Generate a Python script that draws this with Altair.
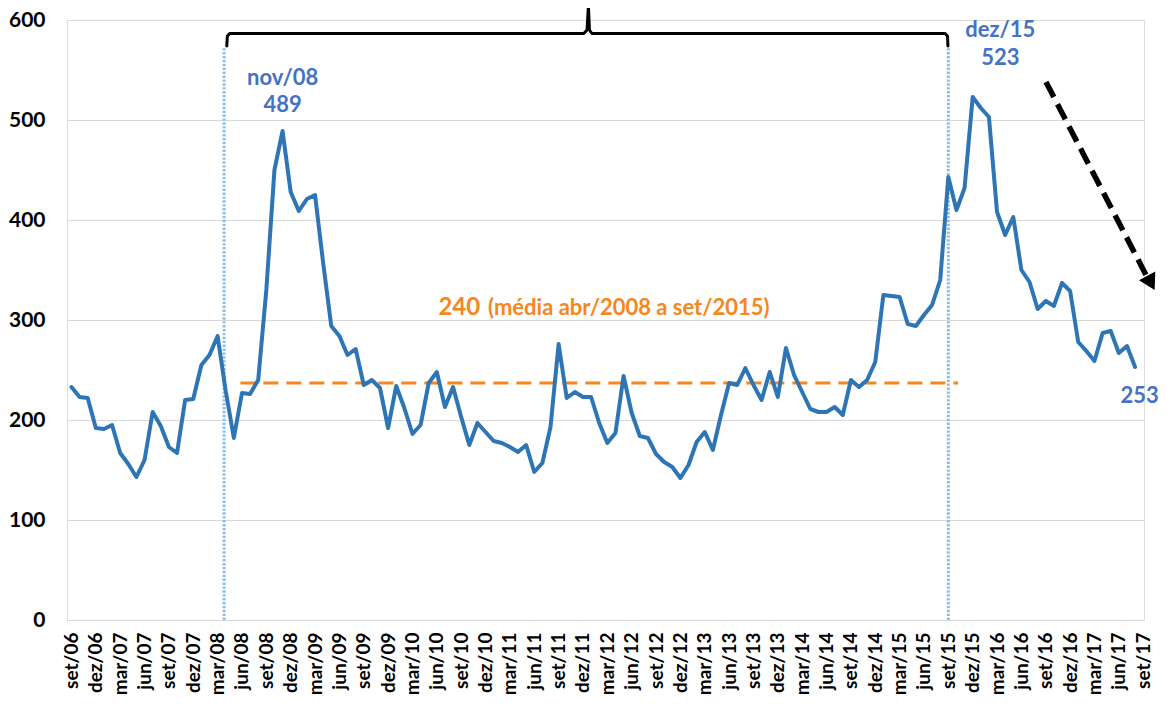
import altair as alt
import pandas as pd

# monthly series, set/06 .. ago/17 (index 0 = set/06)
values = [233, 223, 222, 192, 191, 195, 167, 156, 143, 160, 208, 194, 173, 167, 220, 221,
          255, 265, 284, 229, 182, 227, 226, 240, 330, 450, 489, 428, 409, 421, 425, 357,
          294, 284, 265, 271, 235, 240, 232, 192, 234, 212, 186, 195, 237, 248, 213, 233,
          203, 175, 197, 188, 179, 177, 173, 168, 175, 148, 157, 193, 276, 222, 228, 223,
          223, 197, 177, 187, 244, 207, 184, 182, 166, 158, 153, 142, 155, 178, 188, 170,
          205, 237, 235, 252, 235, 220, 248, 223, 272, 245, 228, 211, 208, 208, 213, 205,
          240, 233, 240, 258, 325, 324, 323, 296, 294, 305, 315, 340, 443, 410, 432, 523,
          512, 503, 408, 385, 403, 350, 338, 311, 319, 314, 337, 329, 278, 269, 259, 287,
          289, 267, 274, 253]

tick_labels = ["set/06", "dez/06", "mar/07", "jun/07", "set/07", "dez/07", "mar/08", "jun/08",
               "set/08", "dez/08", "mar/09", "jun/09", "set/09", "dez/09", "mar/10", "jun/10",
               "set/10", "dez/10", "mar/11", "jun/11", "set/11", "dez/11", "mar/12", "jun/12",
               "set/12", "dez/12", "mar/13", "jun/13", "set/13", "dez/13", "mar/14", "jun/14",
               "set/14", "dez/14", "mar/15", "jun/15", "set/15", "dez/15", "mar/16", "jun/16",
               "set/16", "dez/16", "mar/17", "jun/17", "set/17"]
tick_step = 3
y_ticks = [0, 100, 200, 300, 400, 500, 600]

# average line (abr/2008 a set/2015)
mean_value = 237
mean_span = [20.8, 109.2]
mean_text_num = "240"
mean_text_rest = "(média abr/2008 a set/2015)"
mean_text_pos = [(45.2, 305), (51.3, 305)]

# period markers (dotted verticals) and bracket
period_marks = [18.8, 108.0]
period_top = 573
bracket_i = [19.13, 19.2, 19.5, 63.1, 63.5, 63.67, 63.8, 64.1, 107.6, 107.9, 107.95]
bracket_v = [574, 584, 586.5, 586.5, 590, 614, 590, 586.5, 586.5, 584, 574]

# annotations
ann_text = ["nov/08", "489", "dez/15", "523", "253"]
ann_i = [26.0, 26.0, 114.4, 114.4, 129.2]
ann_v = [535, 508, 583, 555, 217]
ann_align = ["center", "center", "center", "center", "left"]

# trend arrow
arrow_i = [120.03, 132.35]
arrow_v = [538, 345]
arrow_head = (132.95, 337)

BLUE = "#2E75B6"
ORANGE = "#F7861C"
ANN_BLUE = "#4472C4"
FONT = "Lato"

df = pd.DataFrame({"i": list(range(len(values))), "v": values})

xscale = alt.Scale(domain=[-0.55, 132.1], nice=False, zero=False)
yscale = alt.Scale(domain=[0, 600], nice=False)
label_expr = "[" + ",".join("'%s'" % t for t in tick_labels) + "][round(datum.value/%d)]" % tick_step
xaxis = alt.Axis(values=list(range(0, tick_step * len(tick_labels), tick_step)), labelExpr=label_expr,
                 labelAngle=-90, labelFont=FONT, labelFontSize=19, labelFontWeight="bold",
                 labelColor="black", labelPadding=12, ticks=False, domain=False, grid=False,
                 title=None, labelOverlap=False, labelBound=False, labelFlush=False)
yaxis = alt.Axis(values=y_ticks, labelFont=FONT, labelFontSize=21, labelFontWeight="bold",
                 labelColor="black", labelPadding=22, ticks=False, domain=False, grid=True,
                 gridColor="#D9D9D9", gridWidth=1, title=None)

X = alt.X("i:Q", scale=xscale, axis=xaxis)
Y = alt.Y("v:Q", scale=yscale, axis=yaxis)

line = alt.Chart(df).mark_line(color=BLUE, strokeWidth=4, strokeJoin="round", strokeCap="round").encode(x=X, y=Y)

mean_df = pd.DataFrame({"i": [mean_span[0]], "i2": [mean_span[1]], "v": [mean_value]})
mean_rule = alt.Chart(mean_df).mark_rule(color=ORANGE, strokeWidth=3, strokeDash=[15, 8]).encode(
    x=X, x2="i2:Q", y=Y)

per_df = pd.DataFrame({"i": period_marks, "v": [0, 0], "v2": [period_top, period_top]})
per_rule = alt.Chart(per_df).mark_rule(color="#8FBDE8", strokeWidth=3, strokeDash=[2.4, 1.5]).encode(
    x=X, y=Y, y2="v2:Q")

br_df = pd.DataFrame({"i": bracket_i, "v": bracket_v, "o": list(range(len(bracket_i)))})
bracket = alt.Chart(br_df).mark_line(color="black", strokeWidth=3, strokeJoin="round", strokeCap="round").encode(
    x=X, y=Y, order="o:Q")

ar_df = pd.DataFrame({"i": arrow_i, "v": arrow_v})
arrow = alt.Chart(ar_df).mark_line(color="black", strokeWidth=5.5, strokeDash=[17, 8]).encode(x=X, y=Y)
ah_df = pd.DataFrame({"i": [arrow_head[0]], "v": [arrow_head[1]]})
arrow_tip = alt.Chart(ah_df).mark_point(shape="triangle-up", filled=True, color="black", size=340,
                                        angle=152, opacity=1).encode(x=X, y=Y)

ann_df = pd.DataFrame({"i": ann_i, "v": ann_v, "t": ann_text, "a": ann_align})
ann_c = alt.Chart(ann_df[ann_df.a == "center"]).mark_text(
    font=FONT, fontSize=22, fontWeight="bold", color=ANN_BLUE, align="center", baseline="alphabetic"
).encode(x=X, y=Y, text="t:N")
ann_l = alt.Chart(ann_df[ann_df.a == "left"]).mark_text(
    font=FONT, fontSize=22, fontWeight="bold", color=ANN_BLUE, align="left", baseline="alphabetic"
).encode(x=X, y=Y, text="t:N")

m1 = alt.Chart(pd.DataFrame({"i": [mean_text_pos[0][0]], "v": [mean_text_pos[0][1]], "t": [mean_text_num]})).mark_text(
    font=FONT, fontSize=24, fontWeight="bold", color=ORANGE, align="left", baseline="alphabetic"
).encode(x=X, y=Y, text="t:N")
m2 = alt.Chart(pd.DataFrame({"i": [mean_text_pos[1][0]], "v": [mean_text_pos[1][1]], "t": [mean_text_rest]})).mark_text(
    font=FONT, fontSize=22, fontWeight="bold", color=ORANGE, align="left", baseline="alphabetic"
).encode(x=X, y=Y, text="t:N")

chart = alt.layer(per_rule, mean_rule, line, bracket, arrow, arrow_tip, ann_c, ann_l, m1, m2).properties(
    width=1077, height=600,
    autosize=alt.AutoSizeParams(type="none"),
    padding={"left": 59, "top": 12, "right": 19, "bottom": 79},
).configure_view(stroke=None).configure(background="white")

chart.save("out.html", embed_options={"renderer": "svg", "actions": False})
